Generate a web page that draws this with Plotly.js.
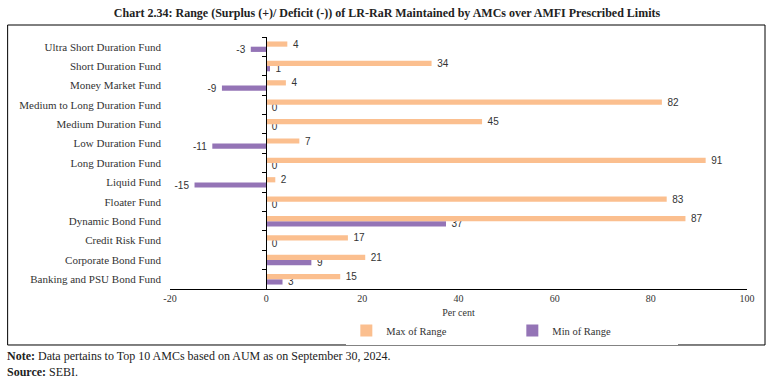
<!DOCTYPE html>
<html>
<head>
<meta charset="utf-8">
<script src="https://cdn.plot.ly/plotly-3.0.1.min.js"></script>
<style>html,body{margin:0;padding:0;background:#fff;}#chart{width:774px;height:384px;}</style>
</head>
<body>
<div id="chart"></div>
<script>
// Categories listed bottom to top
const categories = [
  "Banking and PSU Bond Fund",
  "Corporate Bond Fund",
  "Credit Risk Fund",
  "Dynamic Bond Fund",
  "Floater Fund",
  "Liquid Fund",
  "Long Duration Fund",
  "Low Duration Fund",
  "Medium Duration Fund",
  "Medium to Long Duration Fund",
  "Money Market Fund",
  "Short Duration Fund",
  "Ultra Short Duration Fund"
];
const maxOfRange = [15.4, 20.6, 17.0, 87.2, 83.3, 1.9, 91.4, 6.9, 44.9, 82.3, 4.1, 34.4, 4.4];
const minOfRange = [3.4, 9.4, 0, 37.4, 0, -14.9, 0, -11.2, 0, 0, -9.2, 0.8, -3.2];
const xTickVals = [-20, 0, 20, 40, 60, 80, 100];

const NB = "\u00a0";
function lab(v) {
  const s = Math.round(v).toString();
  return v < 0 ? s + NB + NB : NB + NB + s;
}

const serif = "Liberation Serif, Times New Roman, serif";
const sans = "Liberation Sans, Arial, sans-serif";
const orange = "#fbbf8f";
const purple = "#9474b6";

const traces = [
  {
    type: "bar", orientation: "h", name: "Min of Range",
    y: categories, x: minOfRange,
    marker: {color: purple},
    text: minOfRange.map(lab), textposition: "outside",
    textfont: {family: sans, size: 10, color: "#333"},
    constraintext: "none", cliponaxis: false,
    legendrank: 2, hoverinfo: "x+y"
  },
  {
    type: "bar", orientation: "h", name: "Max of Range",
    y: categories, x: maxOfRange,
    marker: {color: orange},
    text: maxOfRange.map(lab), textposition: "outside",
    textfont: {family: sans, size: 10, color: "#333"},
    constraintext: "none", cliponaxis: false,
    legendrank: 1, hoverinfo: "x+y"
  },
  {
    type: "scatter", mode: "markers", y: categories, x: categories.map(() => 0),
    yaxis: "y2", marker: {opacity: 0}, showlegend: false, hoverinfo: "skip"
  }
];

const layout = {
  width: 774, height: 384,
  margin: {l: 169.5, r: 27, t: 37, b: 95},
  paper_bgcolor: "#fff", plot_bgcolor: "#fff",
  font: {family: serif, size: 11, color: "#222"},
  title: {
    text: "<b>Chart 2.34: Range (Surplus (+)/ Deficit (-)) of LR-RaR Maintained by AMCs over AMFI Prescribed Limits</b>",
    font: {family: serif, size: 12, color: "#222"},
    x: 0.5, xanchor: "center", xref: "container", y: 1 - 13/384, yanchor: "middle"
  },
  barmode: "group", bargap: 0.46, bargroupgap: 0,
  xaxis: {
    range: [-20, 100], tickvals: xTickVals, ticktext: xTickVals.map(String),
    showgrid: false, zeroline: false, showline: true, linecolor: "#000", linewidth: 1,
    ticks: "", tickfont: {family: serif, size: 10, color: "#333"},
    title: {text: "Per cent", font: {family: serif, size: 10, color: "#333"}, standoff: 5},
    fixedrange: true
  },
  yaxis: {
    type: "category", categoryarray: categories, range: [-0.5, 12.5],
    showgrid: false, zeroline: false, showline: false, ticks: "",
    tickfont: {family: serif, size: 11, color: "#333"}, ticklabelstandoff: 8,
    automargin: false, fixedrange: true
  },
  yaxis2: {
    type: "category", categoryarray: categories, range: [-0.5, 12.5],
    overlaying: "y", anchor: "free", position: 20/120, side: "left",
    showline: true, linecolor: "#000", linewidth: 1,
    ticks: "outside", tickson: "boundaries", ticklen: 4, tickcolor: "#000",
    showticklabels: false, showgrid: false, zeroline: false, fixedrange: true
  },
  showlegend: true,
  legend: {
    orientation: "h", x: 0.3056, xanchor: "left", y: -0.107, yanchor: "top",
    font: {family: serif, size: 10.5, color: "#333"},
    entrywidth: 121, itemwidth: 30, traceorder: "normal"
  },
  shapes: [
    {type: "rect", xref: "paper", yref: "paper", x0: -0.2814, x1: 1.0312, y0: -0.2222, y1: 1.0476,
     line: {color: "#000", width: 1}, fillcolor: "rgba(0,0,0,0)", layer: "below"}
  ],
  annotations: [
    {xref: "paper", yref: "paper", x: -0.2866, y: -0.266, xanchor: "left", yanchor: "middle", showarrow: false,
     text: "<b>Note:</b> Data pertains to Top 10 AMCs based on AUM as on September 30, 2024.",
     font: {family: serif, size: 12, color: "#222"}},
    {xref: "paper", yref: "paper", x: -0.2866, y: -0.329, xanchor: "left", yanchor: "middle", showarrow: false,
     text: "<b>Source:</b> SEBI.",
     font: {family: serif, size: 12, color: "#222"}}
  ]
};

Plotly.newPlot("chart", traces, layout, {displayModeBar: false, staticPlot: true});
</script>
</body>
</html>
